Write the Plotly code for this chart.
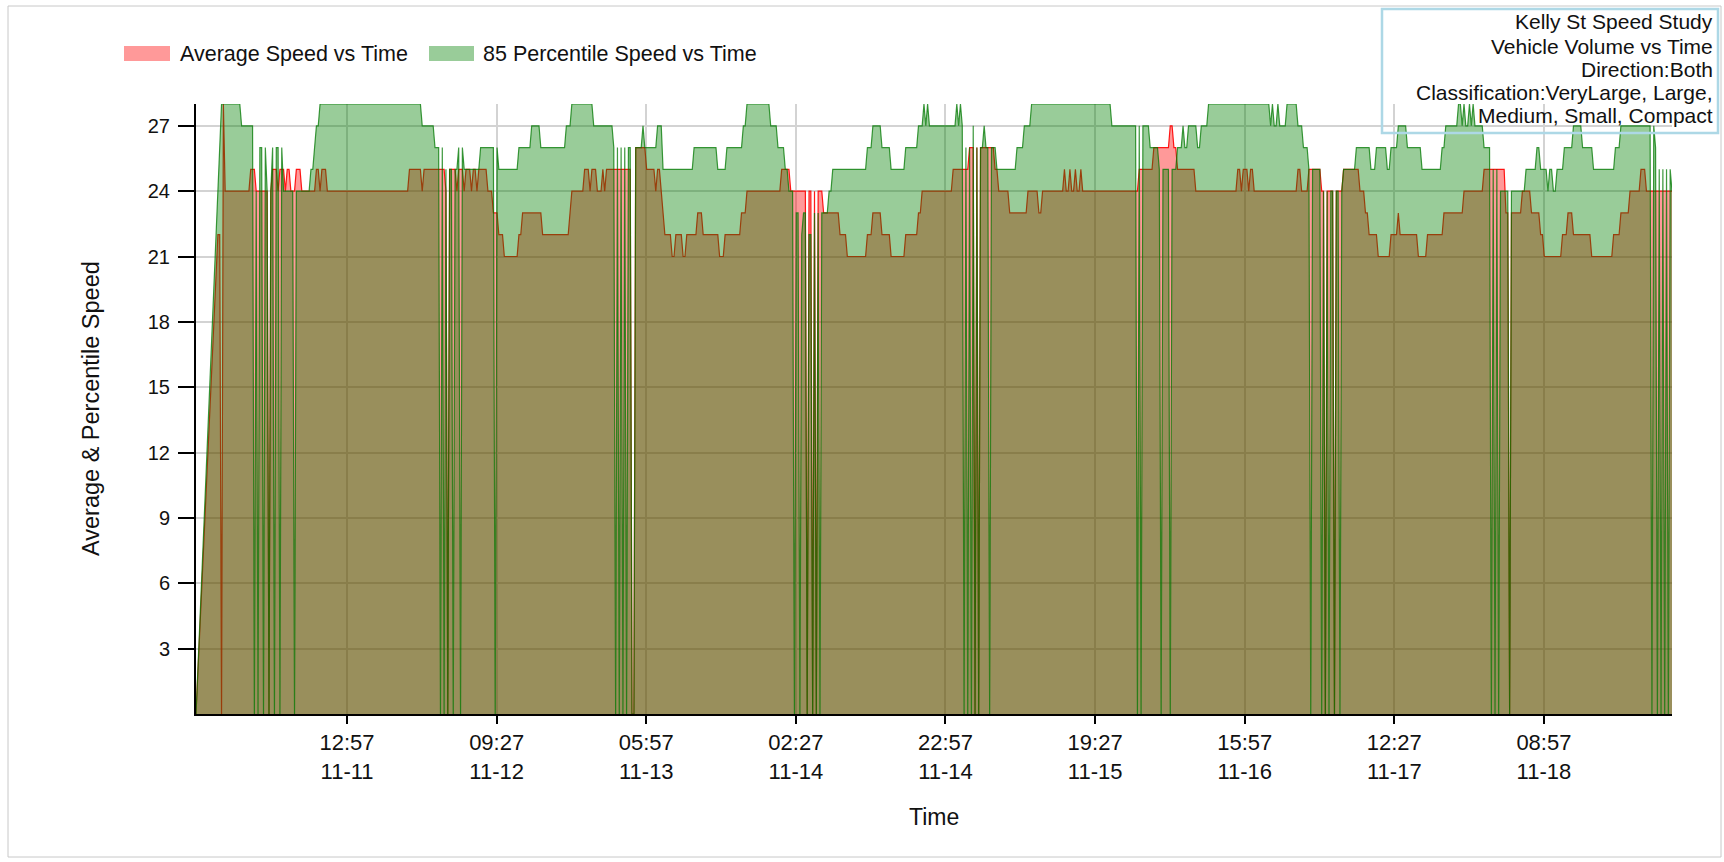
import numpy as np
import pandas as pd
import plotly.graph_objects as go

# ---------------- data (15-minute samples, step breakpoints: (sample index, speed)) ----------------
START = "2023-11-10 16:15"
N_SAMPLES = 810
SAMPLE_MIN = 15

PCT85_BREAKS = [
    (0, 0), (1, None), (12, 24), (13, 26), (14, 28), (25, 27), (32, 0), (33, 24), (34, 0), (35, 26),
    (37, 0), (38, 26), (39, 24), (40, 0), (41, 24), (42, 26), (43, 0), (44, 26), (46, 0), (47, 26),
    (48, 24), (54, 0), (55, 24), (63, 25), (65, 26), (66, 27), (68, 28), (124, 27), (131, 26), (134, 0),
    (135, 26), (136, 0), (137, 25), (138, 0), (139, 25), (141, 0), (142, 25), (144, 26), (145, 0), (146, 26),
    (147, 25), (156, 26), (164, 0), (165, 26), (166, 25), (177, 26), (184, 27), (189, 26), (203, 27), (206, 28),
    (218, 27), (229, 26), (230, 0), (231, 26), (232, 0), (233, 26), (234, 0), (235, 26), (236, 0), (237, 26),
    (239, 0), (241, 26), (245, 27), (246, 26), (253, 27), (256, 25), (273, 26), (286, 25), (291, 26), (300, 27),
    (302, 28), (315, 27), (319, 26), (323, 25), (325, 24), (328, 0), (329, 23), (331, 0), (332, 22), (333, 23),
    (335, 0), (336, 22), (338, 0), (339, 23), (340, 0), (341, 23), (342, 0), (343, 23), (347, 24), (349, 25),
    (368, 26), (371, 27), (376, 26), (381, 25), (389, 26), (396, 27), (399, 28), (400, 27), (401, 28), (402, 27),
    (417, 28), (418, 27), (419, 28), (420, 27), (421, 0), (422, 26), (423, 0), (424, 26), (425, 0), (426, 27),
    (427, 0), (428, 26), (429, 0), (430, 26), (432, 27), (433, 26), (435, 0), (436, 26), (439, 25), (450, 26),
    (454, 27), (458, 28), (502, 27), (516, 0), (517, 27), (518, 0), (519, 27), (523, 26), (528, 25), (529, 0),
    (530, 25), (534, 0), (535, 25), (538, 26), (541, 27), (542, 26), (544, 27), (549, 26), (551, 27), (555, 28),
    (589, 27), (590, 28), (591, 27), (593, 28), (594, 27), (598, 28), (604, 27), (607, 26), (610, 25), (611, 0),
    (612, 25), (617, 0), (618, 24), (619, 0), (620, 24), (621, 0), (622, 24), (624, 0), (625, 24), (627, 0),
    (628, 24), (629, 25), (636, 26), (644, 25), (647, 26), (653, 25), (655, 26), (659, 27), (664, 26), (672, 25),
    (683, 26), (685, 27), (692, 28), (694, 27), (695, 28), (696, 27), (698, 28), (699, 27), (700, 28), (701, 27),
    (706, 26), (710, 0), (711, 25), (712, 0), (713, 25), (714, 0), (715, 24), (720, 0), (721, 24), (729, 25),
    (735, 26), (737, 25), (741, 24), (742, 25), (744, 24), (746, 25), (750, 26), (755, 27), (760, 26), (766, 25),
    (778, 26), (781, 27), (798, 0), (799, 27), (800, 26), (801, 0), (802, 25), (803, 0), (804, 25), (805, 0),
    (806, 25), (807, 0), (808, 25), (809, 24),
]

AVG_BREAKS = [
    (0, 0), (1, None), (12, 22), (14, 0), (15, 28), (16, 24), (30, 25), (33, 24), (40, 0), (41, 24),
    (42, 25), (45, 24), (46, 25), (49, 24), (50, 25), (52, 24), (55, 25), (58, 24), (66, 25), (68, 24),
    (69, 25), (72, 24), (117, 25), (124, 24), (125, 25), (137, 24), (138, 0), (139, 25), (143, 24), (144, 25),
    (147, 24), (148, 25), (151, 24), (152, 25), (154, 24), (155, 25), (160, 24), (163, 23), (166, 22), (169, 21),
    (177, 22), (179, 23), (190, 22), (205, 23), (206, 24), (213, 25), (216, 24), (217, 25), (220, 24), (223, 25),
    (224, 24), (225, 25), (239, 0), (241, 26), (247, 25), (252, 24), (253, 25), (255, 24), (256, 23), (257, 22),
    (261, 21), (263, 22), (267, 21), (269, 22), (275, 23), (278, 22), (287, 21), (290, 22), (299, 23), (302, 24),
    (321, 25), (326, 24), (335, 0), (336, 24), (338, 0), (339, 24), (340, 0), (341, 24), (344, 23), (353, 22),
    (357, 21), (368, 22), (371, 23), (376, 22), (381, 21), (389, 22), (396, 23), (398, 24), (415, 25), (424, 26),
    (427, 0), (428, 26), (429, 0), (430, 26), (438, 25), (440, 24), (446, 23), (456, 24), (462, 23), (464, 24),
    (476, 25), (477, 24), (479, 25), (480, 24), (482, 25), (483, 24), (485, 25), (486, 24), (517, 25), (525, 26),
    (534, 27), (536, 26), (538, 25), (548, 24), (571, 25), (573, 24), (574, 25), (577, 24), (578, 25), (580, 24),
    (604, 25), (606, 24), (610, 25), (617, 24), (619, 0), (620, 24), (624, 0), (625, 24), (629, 25), (638, 24),
    (641, 23), (643, 22), (648, 21), (655, 22), (659, 23), (660, 22), (670, 21), (675, 22), (684, 23), (695, 24),
    (706, 25), (718, 23), (720, 0), (721, 23), (727, 24), (732, 23), (737, 22), (739, 21), (749, 22), (752, 23),
    (755, 22), (765, 21), (777, 22), (781, 23), (786, 24), (792, 25), (795, 24),
]

TICK_FIRST = "2023-11-11 12:57"
TICK_STEP_HOURS = 20.5
TICK_COUNT = 9
Y_TICKS = [3, 6, 9, 12, 15, 18, 21, 24, 27]

SERIES_NAMES = ["Average Speed vs Time", "85 Percentile Speed vs Time"]
TITLE_LINES = ["Kelly St Speed Study", "Vehicle Volume vs Time", "Direction:Both",
               "Classification:VeryLarge, Large,", "Medium, Small, Compact"]


def expand(breaks, n):
    vals = [None] * n
    bounds = breaks + [(n, None)]
    for (i0, v), (i1, _) in zip(bounds[:-1], bounds[1:]):
        for i in range(i0, min(i1, n)):
            vals[i] = v
    return vals


times = pd.Timestamp(START) + pd.to_timedelta(np.arange(N_SAMPLES) * SAMPLE_MIN, unit="min")
avg = expand(AVG_BREAKS, N_SAMPLES)
pct = expand(PCT85_BREAKS, N_SAMPLES)

tick_times = [pd.Timestamp(TICK_FIRST) + pd.Timedelta(hours=TICK_STEP_HOURS * k) for k in range(TICK_COUNT)]
tick_text = [f"{t:%H:%M}<br>{t:%m-%d}" for t in tick_times]

# ---------------- layout geometry (pixels) ----------------
W, H = 1724, 862
L, R, T, B = 196, 1672, 104, 714
PW, PH = R - L, B - T


def px(x):
    return (x - L) / PW


def py(y):
    return (B - y) / PH


FONT = "Liberation Sans, Arial, sans-serif"
TXT = "#111"

fig = go.Figure()
fig.add_trace(go.Scatter(
    x=times, y=avg, name=SERIES_NAMES[0], mode="lines", fill="tozeroy", connectgaps=True,
    fillcolor="rgba(255,0,0,0.4)", line=dict(color="rgba(255,0,0,0.9)", width=1.2),
    showlegend=False, hoverinfo="skip"))
fig.add_trace(go.Scatter(
    x=times, y=pct, name=SERIES_NAMES[1], mode="lines", fill="tozeroy", connectgaps=True,
    fillcolor="rgba(0,128,0,0.4)", line=dict(color="rgba(0,120,0,0.75)", width=1.2),
    showlegend=False, hoverinfo="skip"))

shapes = []
annotations = []

# custom legend (swatch + label)
legend_items = [(124, 170, 178, "rgba(255,0,0,0.4)"), (429, 474, 481, "rgba(0,128,0,0.4)")]
for (x0, x1, xt, col), name in zip(legend_items, SERIES_NAMES):
    shapes.append(dict(type="rect", xref="paper", yref="paper", x0=px(x0), x1=px(x1),
                       y0=py(61), y1=py(46), fillcolor=col, line=dict(width=0)))
    annotations.append(dict(text=name, xref="paper", yref="paper", x=px(xt), y=py(54),
                            xanchor="left", yanchor="middle", showarrow=False,
                            font=dict(family=FONT, size=21.5, color=TXT)))

# info box at top right
shapes.append(dict(type="rect", xref="paper", yref="paper", x0=px(1382), x1=px(1718),
                   y0=py(133), y1=py(9), line=dict(color="#add8e6", width=2.5), layer="above"))
for yc, line in zip([22, 46, 69, 92, 115], TITLE_LINES):
    annotations.append(dict(text=line, xref="paper", yref="paper", x=px(1715), y=py(yc),
                            xanchor="right", yanchor="middle", showarrow=False,
                            font=dict(family=FONT, size=21, color=TXT)))

# outer frame
shapes.append(dict(type="rect", xref="paper", yref="paper", x0=px(8), x1=px(1721),
                   y0=py(857), y1=py(6), line=dict(color="#c8c8c8", width=1), layer="below"))

# axis titles
annotations.append(dict(text="Average & Percentile Speed", xref="paper", yref="paper",
                        x=px(91), y=0.5, textangle=-90, xanchor="center", yanchor="middle",
                        showarrow=False, font=dict(family=FONT, size=23.5, color=TXT)))
annotations.append(dict(text="Time", xref="paper", yref="paper", x=0.5, y=py(817),
                        xanchor="center", yanchor="middle", showarrow=False,
                        font=dict(family=FONT, size=23, color=TXT)))

fig.update_layout(
    width=W, height=H,
    margin=dict(l=L, r=W - R, t=T, b=H - B, autoexpand=False),
    paper_bgcolor="white", plot_bgcolor="white",
    font=dict(family=FONT, size=20, color=TXT),
    shapes=shapes, annotations=annotations, showlegend=False,
    hovermode=False,
)
fig.update_xaxes(
    type="date", range=[times[0], times[-1]], tickvals=tick_times, ticktext=tick_text,
    ticks="outside", ticklen=8, tickcolor="black", tickwidth=1.5,
    showline=True, linecolor="black", linewidth=2,
    showgrid=True, gridcolor="#d3d3d3", gridwidth=1.5, zeroline=False,
    tickfont=dict(family=FONT, size=22, color=TXT),
)
fig.update_yaxes(
    range=[0, 28], tickvals=Y_TICKS, ticks="outside", ticklen=16, tickcolor="black", tickwidth=1.5,
    showline=True, linecolor="black", linewidth=2,
    showgrid=True, gridcolor="#d3d3d3", gridwidth=1.5, zeroline=False,
    tickfont=dict(family=FONT, size=20, color=TXT), ticklabelstandoff=4,
)

fig.write_html("out.html", config={"displayModeBar": False},
               post_script="document.body.style.margin='0';")
